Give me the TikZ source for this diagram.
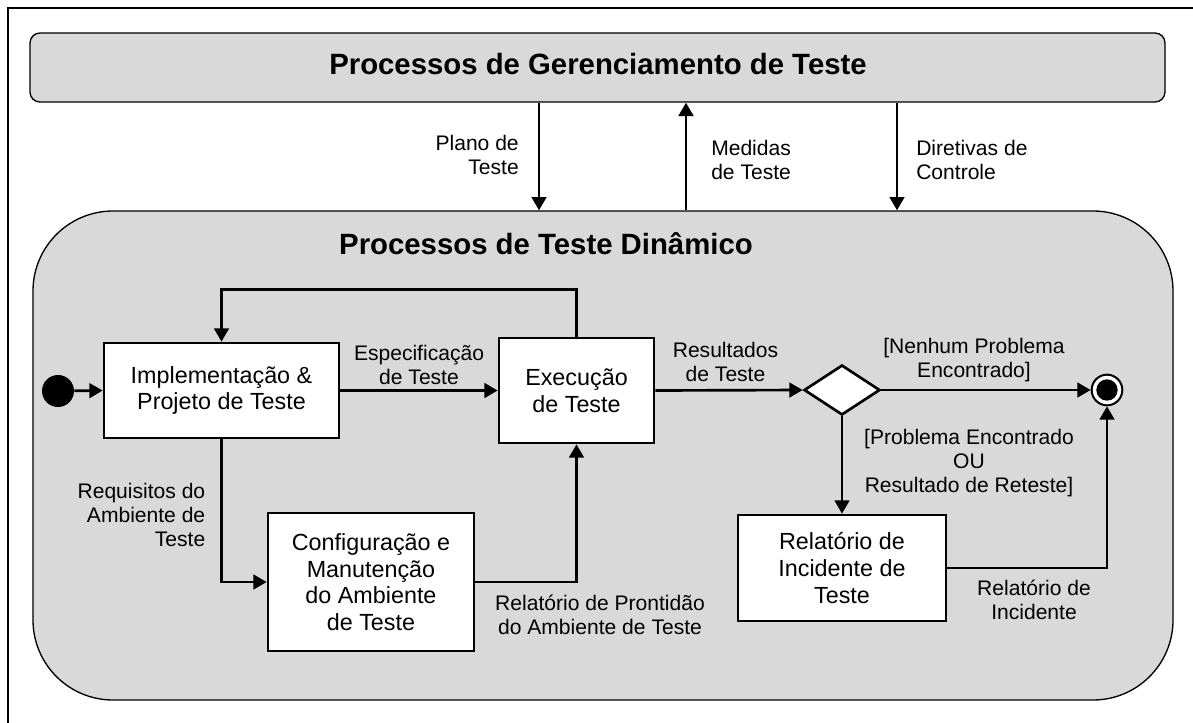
\documentclass[tikz,border=0pt]{standalone}
\usepackage{fontspec}
\setmainfont{Liberation Sans}
\usetikzlibrary{arrows.meta,shapes.geometric}
\definecolor{panel}{HTML}{D9D9D9}
\begin{document}
\begin{tikzpicture}[x=0.75pt,y=-0.75pt,
  proc/.style={draw, line width=2pt, fill=white, align=center, inner sep=0pt,
    font=\fontsize{17.5}{20}\selectfont},
  lbl/.style={align=center, inner sep=0pt, font=\fontsize{15.8}{18}\selectfont},
  ttl/.style={inner sep=0pt, font=\fontsize{22}{26}\selectfont\bfseries},
  flow/.style={line width=2pt, -{Triangle[length=10pt,width=11pt]}},
  area/.style={draw, line width=1pt, fill=panel}
]
\useasboundingbox (0,0) rectangle (1193,722);
\draw[line width=1.2pt] (8,8) rectangle (1215,745);

% containers
\node[area, rounded corners=7.5pt, minimum width=851.25pt, minimum height=51.75pt, inner sep=0pt]
  (top) at (597.5,67.5) {};
\node[ttl] (toptitle) at (598,64) {Processos de Gerenciamento de Teste};
\node[area, rounded corners=60pt, minimum width=855pt, minimum height=366.75pt, inner sep=0pt]
  (dyn) at (603,455.5) {};
\node[ttl] (dyntitle) at (546,244) {Processos de Teste Dinâmico};

% arrows between containers
\coordinate (cp) at (539,0);
\coordinate (cm) at (686,0);
\coordinate (cd) at (897,0);
\draw[flow] (cp |- top.south) -- (cp |- dyn.north);
\draw[flow] (cm |- dyn.north) -- (cm |- top.south);
\draw[flow] (cd |- top.south) -- (cd |- dyn.north);
\node[lbl, align=right, anchor=east] (lp) at (519,155) {Plano de\\Teste};
\node[lbl, align=left, anchor=west] (lm) at (711,160) {Medidas\\de Teste};
\node[lbl, align=left, anchor=west] (ld) at (916,160) {Diretivas de\\Controle};

% activity nodes
\node[circle, fill=black, minimum size=24pt, inner sep=0pt] (start) at (58,391) {};
\node[proc, minimum width=176.25pt, minimum height=71.25pt] (impl) at (221.5,390.5)
  {Implementação \&\\Projeto de Teste};
\node[proc, minimum width=116.25pt, minimum height=78.75pt] (exec) at (576.5,390.5)
  {Execução\\de Teste};
\node[proc, minimum width=154.5pt, minimum height=103.5pt] (conf) at (371,582)
  {Configuração e\\Manutenção\\do Ambiente\\de Teste};
\node[draw, line width=2pt, fill=white, diamond, aspect=1.52, minimum width=57pt,
  minimum height=37.5pt, inner sep=0pt] (dec) at (842,390) {};
\node[proc, minimum width=156pt, minimum height=79.5pt] (rel) at (842,568)
  {Relatório de\\Incidente de\\Teste};
\node[circle, draw, line width=1.5pt, fill=white, minimum size=23pt, inner sep=0pt] (end) at (1107,390) {};
\node[circle, fill=black, minimum size=16pt, inner sep=0pt] (endin) at (end.center) {};

% connectors
\draw[flow] (start) -- (impl.west);
\draw[flow] (impl.east) -- (exec.west);
\draw[flow] (exec.north) -- ++(0,-47) -| (impl.north);
\draw[flow] (impl.south) |- (conf.west);
\draw[flow] (conf.east) -| (exec.south);
\draw[flow] (exec.east) -- (dec.west);
\draw[flow] (dec.east) -- (end.west);
\draw[flow] (dec.south) -- (rel.north);
\draw[flow] (rel.east) -| (end.south);

% labels
\node[lbl] (lesp) at (419,365) {Especificação\\de Teste};
\node[lbl, align=right, anchor=east] (lreq) at (205.5,515) {Requisitos do\\Ambiente de\\Teste};
\node[lbl] (lpro) at (600,615) {Relatório de Prontidão\\do Ambiente de Teste};
\node[lbl] (lres) at (725.5,362) {Resultados\\de Teste};
\node[lbl] (lnen) at (974,360) {[Nenhum Problema\\Encontrado]};
\node[lbl] (lprob) at (969,463) {[Problema Encontrado\\OU\\Resultado de Reteste]};
\node[lbl] (linc) at (1034,600) {Relatório de\\Incidente};
\end{tikzpicture}
\end{document}
